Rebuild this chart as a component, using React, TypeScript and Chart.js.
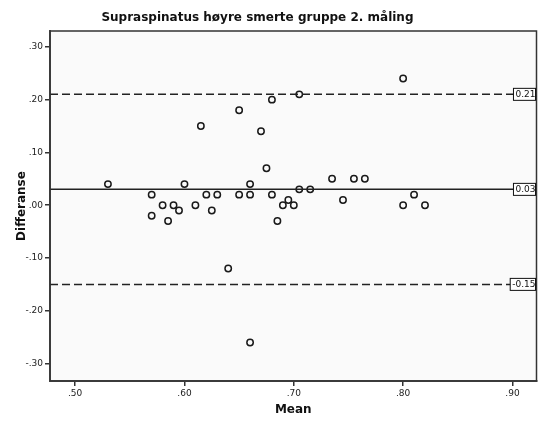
import React, { useEffect, useRef } from "react";
import { Chart, registerables } from "chart.js";

Chart.register(...registerables);

const TITLE = "Supraspinatus høyre smerte gruppe 2. måling";
const X_TITLE = "Mean";
const Y_TITLE = "Differanse";

const means = [
  0.53, 0.57, 0.57, 0.58, 0.585, 0.59, 0.595, 0.6, 0.61, 0.615,
  0.62, 0.625, 0.63, 0.64, 0.65, 0.65, 0.66, 0.66, 0.66, 0.67,
  0.675, 0.68, 0.68, 0.685, 0.69, 0.695, 0.7, 0.705, 0.705, 0.715,
  0.735, 0.745, 0.755, 0.765, 0.8, 0.8, 0.81, 0.82,
];
const diffs = [
  0.04, 0.02, -0.02, 0, -0.03, 0, -0.01, 0.04, 0, 0.15,
  0.02, -0.01, 0.02, -0.12, 0.18, 0.02, 0.04, 0.02, -0.26, 0.14,
  0.07, 0.2, 0.02, -0.03, 0, 0.01, 0, 0.21, 0.03, 0.03,
  0.05, 0.01, 0.05, 0.05, 0.24, 0, 0.02, 0,
];

const meanLine = 0.03;
const upperLimit = 0.21;
const lowerLimit = -0.15;
const refLines = [upperLimit, meanLine, lowerLimit];
const refLabels = ["0.21", "0.03", "-0.15"];

const xTicks = [0.5, 0.6, 0.7, 0.8, 0.9];
const yTicks = [-0.3, -0.2, -0.1, 0, 0.1, 0.2, 0.3];
const xMin = 0.477;
const xMax = 0.922;
const yMin = -0.333;
const yMax = 0.33;

const fmt = (v: number) => {
  const s = Math.abs(v).toFixed(2).replace(/^0/, "");
  return (v < 0 ? "-" : "") + s;
};

const FONT = "'DejaVu Sans', sans-serif";

const plotBgPlugin = {
  id: "plotBg",
  beforeDraw(chart: any) {
    const { ctx, chartArea } = chart;
    ctx.save();
    ctx.fillStyle = "#fafafa";
    ctx.fillRect(chartArea.left, chartArea.top, chartArea.right - chartArea.left, chartArea.bottom - chartArea.top);
    ctx.restore();
  },
  afterDraw(chart: any) {
    const { ctx, chartArea } = chart;
    ctx.save();
    ctx.strokeStyle = "#333";
    ctx.lineWidth = 1.5;
    ctx.strokeRect(chartArea.left, chartArea.top, chartArea.right - chartArea.left, chartArea.bottom - chartArea.top);
    // title
    ctx.fillStyle = "#111";
    ctx.font = `bold 12px ${FONT}`;
    ctx.textAlign = "center";
    ctx.textBaseline = "middle";
    ctx.fillText(TITLE, chart.width * 0.475, 18);
    // ref labels
    const ys = chart.scales.y;
    ctx.font = `9px ${FONT}`;
    refLines.forEach((v, i) => {
      const y = ys.getPixelForValue(v);
      const label = refLabels[i];
      const w = ctx.measureText(label).width + 2;
      const right = chartArea.right - 1;
      ctx.fillStyle = "#fff";
      ctx.fillRect(right - w, y - 6, w, 12);
      ctx.strokeStyle = "#111";
      ctx.lineWidth = 1;
      ctx.strokeRect(right - w, y - 6, w, 12);
      ctx.fillStyle = "#111";
      ctx.textAlign = "right";
      ctx.fillText(label, right, y + 0.5);
    });
    ctx.restore();
  },
};

export default function App() {
  const ref = useRef<HTMLCanvasElement | null>(null);
  useEffect(() => {
    if (!ref.current) return;
    const points = means.map((m, i) => ({ x: m, y: diffs[i] }));
    const lineDs = refLines.map((v, i) => ({
      type: "line" as const,
      data: [{ x: xMin, y: v }, { x: xMax, y: v }],
      borderColor: "#222",
      borderWidth: 1.5,
      borderDash: i === 1 ? [] : [8, 4],
      pointRadius: 0,
      fill: false,
    }));
    const chart = new Chart(ref.current, {
      type: "scatter",
      data: {
        datasets: [
          ...lineDs,
          {
            type: "scatter",
            data: points,
            pointRadius: 3.2,
            pointBorderWidth: 1.5,
            pointBorderColor: "#1a1a1a",
            pointBackgroundColor: "rgba(250,250,250,1)",
          },
        ] as any,
      },
      options: {
        animation: false,
        responsive: false,
        devicePixelRatio: 1,
        layout: { padding: { top: 31, right: 4, left: 0, bottom: 0 } },
        plugins: { legend: { display: false }, tooltip: { enabled: false }, title: { display: false } },
        scales: {
          x: {
            type: "linear",
            min: xMin,
            max: xMax,
            afterBuildTicks: (s: any) => { s.ticks = xTicks.map((v) => ({ value: v })); },
            afterFit: (s: any) => { s.height = 40; },
            ticks: { callback: (v: any) => fmt(Number(v)), font: { family: FONT, size: 9 }, color: "#222", padding: 2, maxRotation: 0 },
            grid: { drawOnChartArea: false, tickLength: 5, color: "#333", lineWidth: 1.5 },
            border: { display: true, color: "#555", width: 2 },
            title: { display: true, text: X_TITLE, font: { family: FONT, size: 12, weight: "bold" }, color: "#111", padding: { top: 0, bottom: 4 } },
          },
          y: {
            type: "linear",
            min: yMin,
            max: yMax,
            afterBuildTicks: (s: any) => { s.ticks = yTicks.map((v) => ({ value: v })); },
            afterFit: (s: any) => { s.width = 50; },
            ticks: { callback: (v: any) => fmt(Number(v)), font: { family: FONT, size: 9 }, color: "#222", padding: 2 },
            grid: { drawOnChartArea: false, tickLength: 5, color: "#333", lineWidth: 1.5 },
            border: { display: true, color: "#555", width: 2 },
            title: { display: true, text: Y_TITLE, font: { family: FONT, size: 12, weight: "bold" }, color: "#111", padding: { top: 15, bottom: 0 } },
          },
        },
      } as any,
      plugins: [plotBgPlugin],
    });
    return () => chart.destroy();
  }, []);
  return (
    <div style={{ position: "fixed", left: 0, top: 0, width: 542, height: 421, background: "#fff" }}>
      <canvas ref={ref} width={542} height={421} />
    </div>
  );
}
